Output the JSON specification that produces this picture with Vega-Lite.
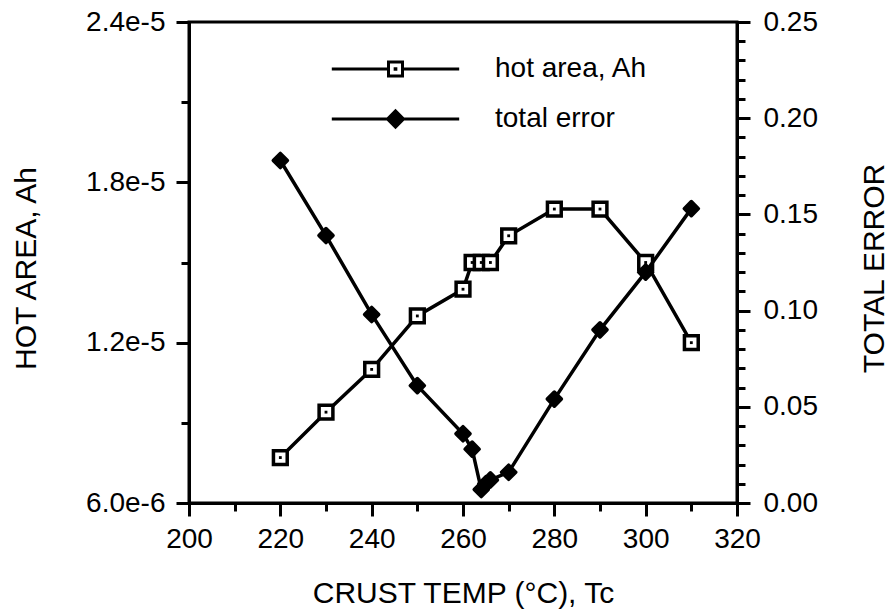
{
  "$schema": "https://vega.github.io/schema/vega-lite/v6.json",
  "width": 548,
  "height": 481,
  "autosize": {"type": "none"},
  "padding": {"left": 189, "top": 22, "right": 152, "bottom": 111},
  "background": "white",
  "config": {
    "view": {"stroke": "black", "strokeWidth": 3},
    "font": "Liberation Sans",
    "axis": {
      "domainColor": "black", "domainWidth": 3, "tickColor": "black", "tickWidth": 3,
      "labelColor": "black", "titleColor": "black", "labelFont": "Liberation Sans", "titleFont": "Liberation Sans",
      "labelFontSize": 28, "titleFontSize": 30, "titleFontWeight": "normal", "grid": false,
      "labelFlush": false, "labelOverlap": false
    },
    "legend": {"orient": "none", "legendX": 192.5, "legendY": 33, "padding": 0, "symbolSize": 196, "symbolStrokeWidth": 3, "labelFontSize": 28, "labelFont": "Liberation Sans", "labelColor": "black", "labelOffset": 85.5, "rowPadding": 21, "symbolOffset": 0}
  },
  "data": {
    "values": [
      {"T": 220, "series": "hot area, Ah", "v": 7.7e-6},
      {"T": 230, "series": "hot area, Ah", "v": 9.4e-6},
      {"T": 240, "series": "hot area, Ah", "v": 1.1e-5},
      {"T": 250, "series": "hot area, Ah", "v": 1.3e-5},
      {"T": 260, "series": "hot area, Ah", "v": 1.4e-5},
      {"T": 262, "series": "hot area, Ah", "v": 1.5e-5},
      {"T": 264, "series": "hot area, Ah", "v": 1.5e-5},
      {"T": 266, "series": "hot area, Ah", "v": 1.5e-5},
      {"T": 270, "series": "hot area, Ah", "v": 1.6e-5},
      {"T": 280, "series": "hot area, Ah", "v": 1.7e-5},
      {"T": 290, "series": "hot area, Ah", "v": 1.7e-5},
      {"T": 300, "series": "hot area, Ah", "v": 1.5e-5},
      {"T": 310, "series": "hot area, Ah", "v": 1.2e-5},
      {"T": 220, "series": "total error", "v": 0.178},
      {"T": 230, "series": "total error", "v": 0.139},
      {"T": 240, "series": "total error", "v": 0.098},
      {"T": 250, "series": "total error", "v": 0.061},
      {"T": 260, "series": "total error", "v": 0.036},
      {"T": 262, "series": "total error", "v": 0.028},
      {"T": 264, "series": "total error", "v": 0.007},
      {"T": 265, "series": "total error", "v": 0.010},
      {"T": 266, "series": "total error", "v": 0.012},
      {"T": 270, "series": "total error", "v": 0.016},
      {"T": 280, "series": "total error", "v": 0.054},
      {"T": 290, "series": "total error", "v": 0.090},
      {"T": 300, "series": "total error", "v": 0.120},
      {"T": 310, "series": "total error", "v": 0.153}
    ]
  },
  "encoding": {
    "x": {
      "field": "T", "type": "quantitative",
      "scale": {"domain": [200, 320], "nice": false, "zero": false},
      "axis": {
        "values": [200, 210, 220, 230, 240, 250, 260, 270, 280, 290, 300, 310, 320],
        "labelExpr": "datum.value % 20 === 0 ? datum.label : ''",
        "tickSize": {"condition": {"test": "datum.value % 20 === 0", "value": 13}, "value": 8},
        "labelPadding": 9,
        "title": "CRUST TEMP (°C), Tc",
        "titleY": 99, "titleBaseline": "alphabetic"
      }
    }
  },
  "layer": [
    {
      "transform": [{"filter": "datum.series === 'hot area, Ah'"}],
      "encoding": {
        "y": {
          "field": "v", "type": "quantitative",
          "scale": {"domain": [6e-6, 2.4e-5], "nice": false, "zero": false},
          "axis": {
            "orient": "left",
            "values": [6e-6, 9e-6, 1.2e-5, 1.5e-5, 1.8e-5, 2.1e-5, 2.4e-5],
            "labelExpr": "round(datum.value*1e7) % 60 === 0 ? format(datum.value, '.1e') : ''",
            "tickSize": {"condition": {"test": "round(datum.value*1e7) % 60 === 0", "value": 13}, "value": 8},
            "labelPadding": 11,
            "title": "HOT AREA, Ah",
            "titleAngle": 270, "titleX": -154, "titleY": 246, "titleBaseline": "alphabetic", "titleAlign": "center"
          }
        }
      },
      "layer": [
        {"mark": {"type": "line", "color": "black", "strokeWidth": 3.5}},
        {"mark": {"type": "point", "filled": true, "fill": "white", "stroke": "black", "strokeWidth": 3.5, "shape": "square", "size": 190, "opacity": 1}},
        {"mark": {"type": "point", "filled": true, "color": "black", "shape": "square", "size": 8, "opacity": 1}},
        {
          "transform": [{"filter": "false"}],
          "mark": {"type": "point", "filled": true, "strokeWidth": 3, "opacity": 1},
          "encoding": {
            "shape": {"field": "series", "type": "nominal",
              "scale": {"domain": ["hot area, Ah", "total error"], "range": ["M-9.1,0H-1M1,0H9.1M-1,-1H1V1H-1ZM-0.05,-0.05H0.05V0.05H-0.05Z", "M-9.1,0H-1.15M1.15,0H9.1M-1.15,0L0,-1.15L1.15,0L0,1.15Z"]},
              "legend": {"title": null}},
            "fill": {"field": "series", "type": "nominal",
              "scale": {"domain": ["hot area, Ah", "total error"], "range": ["white", "black"]},
              "legend": {"title": null}},
            "stroke": {"field": "series", "type": "nominal",
              "scale": {"domain": ["hot area, Ah", "total error"], "range": ["black", "black"]},
              "legend": {"title": null}}
          }
        }
      ]
    },
    {
      "transform": [{"filter": "datum.series === 'total error'"}],
      "encoding": {
        "y": {
          "field": "v", "type": "quantitative",
          "scale": {"domain": [0, 0.25], "nice": false},
          "axis": {
            "orient": "right",
            "values": [0, 0.01, 0.02, 0.03, 0.04, 0.05, 0.06, 0.07, 0.08, 0.09, 0.1, 0.11, 0.12, 0.13, 0.14, 0.15, 0.16, 0.17, 0.18, 0.19, 0.2, 0.21, 0.22, 0.23, 0.24, 0.25],
            "labelExpr": "round(datum.value*100) % 5 === 0 ? format(datum.value, '.2f') : ''",
            "tickSize": {"condition": {"test": "round(datum.value*100) % 5 === 0", "value": 13}, "value": 8},
            "labelPadding": 13,
            "title": "TOTAL ERROR",
            "titleAngle": 270, "titleX": 146, "titleY": 246, "titleBaseline": "alphabetic", "titleAlign": "center"
          }
        }
      },
      "layer": [
        {"mark": {"type": "line", "color": "black", "strokeWidth": 3.5}},
        {"mark": {"type": "point", "filled": true, "fill": "black", "stroke": "black", "strokeWidth": 3.5, "strokeJoin": "round", "shape": "diamond", "size": 200, "opacity": 1}}
      ]
    }
  ],
  "resolve": {"scale": {"y": "independent"}}
}
